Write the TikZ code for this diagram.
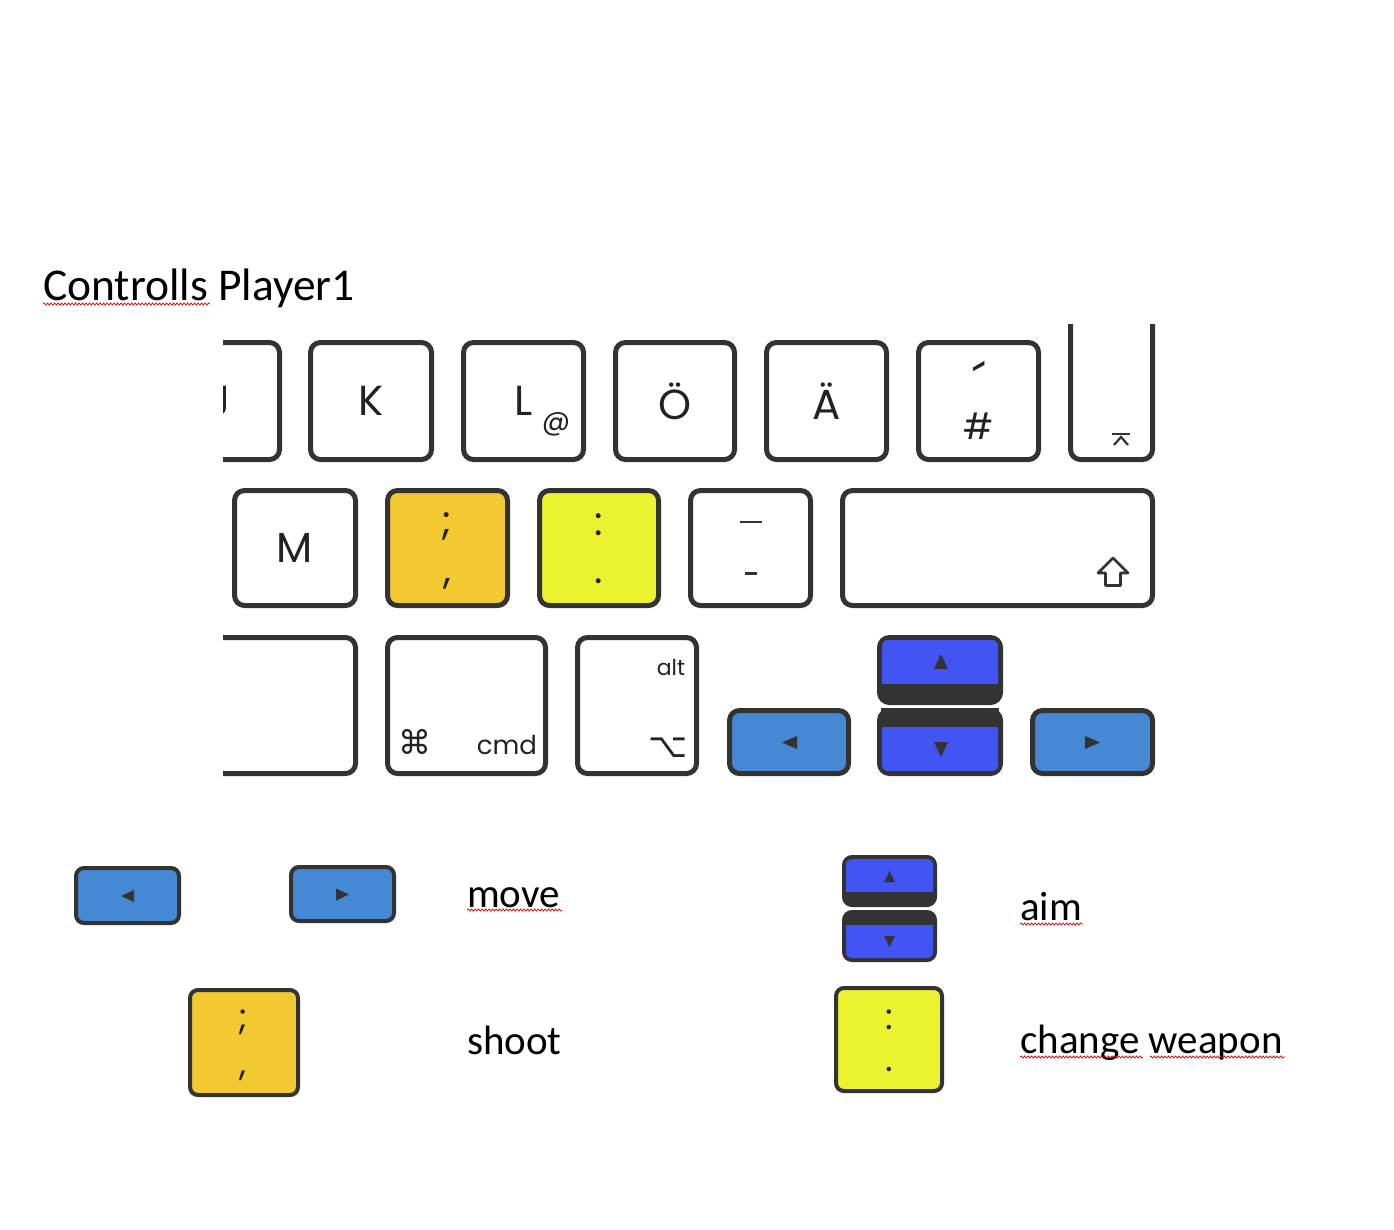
\documentclass[tikz,border=0pt]{standalone}
\usepackage{fontspec}
\setmainfont{Carlito}
\newfontfamily\keyfont{Poppins}
\newfontfamily\symfont{DejaVu Sans}
\usetikzlibrary{decorations.pathmorphing}
\definecolor{keyline}{HTML}{333333}
\definecolor{keytext}{HTML}{222222}
\definecolor{shootcol}{HTML}{F2C930}
\definecolor{weaponcol}{HTML}{ECF32E}
\definecolor{movecol}{HTML}{4589D4}
\definecolor{aimcol}{HTML}{4255F4}
\tikzset{
  key/.style={draw=keyline, line width=5pt, rounded corners=10pt, fill=white, inner sep=0pt,
    text=keytext, font=\keyfont\fontsize{42}{42}\selectfont},
  smallkey/.style={key, line width=4pt, rounded corners=8pt},
  mark/.style={inner sep=0pt, text=keytext, font=\keyfont\fontsize{#1}{#1}\selectfont},
  sym/.style={inner sep=0pt, text=keytext, font=\symfont\fontsize{#1}{#1}\selectfont},
  caption/.style={inner sep=0pt, anchor=base west, font=\fontsize{41}{48}\selectfont},
  squig/.style={red!85!black, line width=0.7pt, decorate,
    decoration={snake, amplitude=1.1pt, segment length=3.5pt}},
}

\begin{document}
\begin{tikzpicture}[x=1pt,y=-1pt]
\useasboundingbox (0,0) rectangle (1394,1229);

\node[caption, font=\fontsize{45.5}{52}\selectfont] (title) at (43,300) {Controlls Player1};
\draw[squig] (43,304) -- (210,304);

% keyboard cut-out
\begin{scope}
\clip (223,324) rectangle (1170,790);
% top row
\node[key, minimum width=120, minimum height=117] (kJ) at (219.5,401) {J};
\node[key, minimum width=121, minimum height=117] (kK) at (371,401) {K};
\node[key, minimum width=120, minimum height=117] (kL) at (523.5,401) {L};
\node[key, minimum width=119, minimum height=117] (kOe) at (675,401) {Ö};
\node[key, minimum width=120, minimum height=117] (kAe) at (826.5,401) {Ä};
\node[key, minimum width=120, minimum height=117] (kHash) at (978.5,401) {};
\node[key, minimum width=82, minimum height=210] (kRet) at (1111.5,354.5) {};
\node[mark=28] (at) at (556,424) {@};
\node[mark=54, anchor=north] (tick) at (979,361) {´};
\node[mark=36] (hash) at (978.5,426) {\#};
\draw[keyline, line width=2.2pt] (1112,434) -- (1130,434);
\draw[keyline, line width=2.2pt] (1114,445) -- (1121,437) -- (1128,445);
% middle row
\node[key, minimum width=121, minimum height=115] (kM) at (295,548) {M};
\node[key, fill=shootcol, minimum width=120, minimum height=115] (kSemi) at (447.5,548) {};
\node[key, fill=weaponcol, minimum width=119, minimum height=115] (kColon) at (599,548) {};
\node[key, minimum width=120, minimum height=115] (kMinus) at (750.5,548) {};
\node[key, minimum width=310, minimum height=115] (kShift) at (997.5,548) {};
\node[mark=40] (semi) at (447,526) {;};
\node[mark=40] (comma) at (447,584) {,};
\node[mark=40] (colon) at (599,525) {:};
\node[mark=40] (dot) at (599,581) {.};
\draw[keyline, line width=2.4pt] (740,522) -- (762,522);
\draw[keyline, line width=3pt] (745,573) -- (757,573);
\draw[keyline, line width=2.6pt, line join=round]
  (1113,558) -- (1098,573) -- (1105.5,573) -- (1105.5,585.5) -- (1120.5,585.5)
  -- (1120.5,573) -- (1128,573) -- cycle;
% bottom row
\node[key, minimum width=253, minimum height=136] (kCtrl) at (229,705.5) {};
\node[key, minimum width=158, minimum height=136] (kCmd) at (466.5,705.5) {};
\node[key, minimum width=119, minimum height=136] (kAlt) at (637,705.5) {};
\node[sym=33] (cmdsym) at (415,742) {⌘};
\node[mark=26] (cmd) at (507,745) {cmd};
\node[mark=22] (alt) at (671,667) {alt};
\node[sym=34] (altsym) at (668,748) {⌥};
\node[key, fill=movecol, minimum width=119, minimum height=63] (kLeft) at (789,742) {};
\node[key, fill=keyline, minimum width=121, minimum height=65] (kUp) at (940,670) {};
\node[key, fill=keyline, minimum width=121, minimum height=63] (kDown) at (940,742) {};
\node[key, fill=movecol, minimum width=120, minimum height=63] (kRight) at (1092.5,742) {};
\fill[aimcol, rounded corners=6pt] (882,640) rectangle (998,700);
\fill[keyline] (881,684) rectangle (999,702);
\fill[aimcol, rounded corners=6pt] (882,712) rectangle (998,771);
\fill[keyline] (881,708) rectangle (999,727);
\fill[keyline] (kLeft.center) ++(-7,0.5) -- ++(15,-6.5) -- ++(0,13) -- cycle;
\fill[keyline] (kRight.center) ++(7.5,0.5) -- ++(-15,-6.5) -- ++(0,13) -- cycle;
\fill[keyline] (kUp.center) ++(1,-16) -- ++(7,15) -- ++(-14,0) -- cycle;
\fill[keyline] (kDown.center) ++(-6,0) -- ++(14,0) -- ++(-7,15) -- cycle;
\end{scope}

% legend
\node[smallkey, fill=movecol, minimum width=103, minimum height=55] (kML) at (127.5,895.5) {};
\node[smallkey, fill=movecol, minimum width=103, minimum height=54] (kMR) at (342.5,894) {};
\fill[keyline] (kML.center) ++(-6.5,0.5) -- ++(13,-6) -- ++(0,12) -- cycle;
\fill[keyline] (kMR.center) ++(6.5,0.5) -- ++(-13,-6) -- ++(0,12) -- cycle;
\node[caption] (move) at (467,907) {move};
\draw[squig] (467,910) -- (562,910);

\node[smallkey, fill=keyline, minimum width=91, minimum height=48] (kAU) at (889.5,881) {};
\node[smallkey, fill=keyline, minimum width=91, minimum height=48] (kAD) at (889.5,936) {};
\fill[aimcol, rounded corners=5pt] (846,859) rectangle (933,900);
\fill[keyline] (845,892) rectangle (934,903);
\fill[aimcol, rounded corners=5pt] (846,917) rectangle (933,958);
\fill[keyline] (845,914) rectangle (934,925);
\fill[keyline] (kAU.center) ++(0,-10) -- ++(5.5,11) -- ++(-11,0) -- cycle;
\fill[keyline] (kAD.center) ++(-5.5,0) -- ++(11,0) -- ++(-5.5,11) -- cycle;
\node[caption] (aim) at (1020,920) {aim};
\draw[squig] (1020,924) -- (1083,924);

\node[smallkey, fill=shootcol, minimum width=108, minimum height=105] (kShoot) at (244,1042.5) {};
\node[mark=36] (semi2) at (243,1022) {;};
\node[mark=36] (comma2) at (243,1076) {,};
\node[caption] (shoot) at (467,1054) {shoot};

\node[smallkey, fill=weaponcol, minimum width=106, minimum height=103] (kWeapon) at (889,1039.5) {};
\node[mark=36] (colon2) at (889,1020) {:};
\node[mark=36] (dot2) at (889,1069) {.};
\node[caption] (weapon) at (1020,1053) {change weapon};
\draw[squig] (1020,1057) -- (1143,1057);
\draw[squig] (1150,1057) -- (1285,1057);
\end{tikzpicture}
\end{document}
